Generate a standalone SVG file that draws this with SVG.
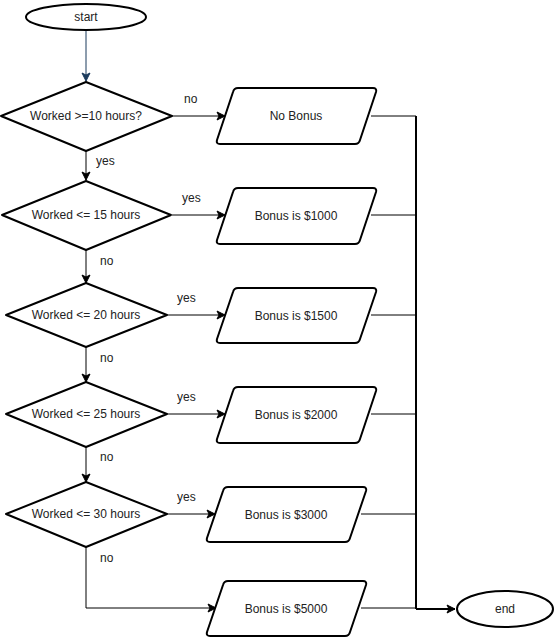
<svg xmlns="http://www.w3.org/2000/svg" width="558" height="637" viewBox="0 0 558 637">
<style>
.sh{fill:#fff;stroke:#000;stroke-width:2;stroke-linejoin:round}
.t{font-family:"Liberation Sans",Arial,sans-serif;font-size:12px;fill:#222;text-anchor:middle;dominant-baseline:central}
.c{fill:none;stroke:#000;stroke-width:1}
.l{font-family:"Liberation Sans",Arial,sans-serif;font-size:12px;fill:#222}
</style>
<defs>
<marker id="a" markerWidth="10" markerHeight="10" refX="9" refY="5" orient="auto" markerUnits="userSpaceOnUse">
<path d="M1,1 L9,5 L1,9 L3,5 Z" fill="#000" stroke="#000" stroke-width="1"/>
</marker>
<marker id="ab" markerWidth="10" markerHeight="10" refX="9" refY="5" orient="auto" markerUnits="userSpaceOnUse">
<path d="M1,1 L9,5 L1,9 L3,5 Z" fill="#1b3a5c" stroke="#1b3a5c" stroke-width="1"/>
</marker>
</defs>
<g id="connectors">
<path class="c" d="M86,31 V81" stroke="#1b3a5c" style="stroke:#1b3a5c" marker-end="url(#ab)"/>
<path class="c" d="M86,151 V180" marker-end="url(#a)"/>
<path class="c" d="M86,250 V283" marker-end="url(#a)"/>
<path class="c" d="M86,347 V382" marker-end="url(#a)"/>
<path class="c" d="M86,447 V482" marker-end="url(#a)"/>
<path class="c" d="M86,547 V608 H216" marker-end="url(#a)"/>
<path class="c" d="M172,116 H225" marker-end="url(#a)"/>
<path class="c" d="M172,215 H225" marker-end="url(#a)"/>
<path class="c" d="M167,315 H225" marker-end="url(#a)"/>
<path class="c" d="M167,414 H225" marker-end="url(#a)"/>
<path class="c" d="M167,514 H215" marker-end="url(#a)"/>
<path class="c" d="M371,116 H416 V609"/>
<path class="c" d="M371,215 H416"/>
<path class="c" d="M371,315 H416"/>
<path class="c" d="M371,414 H416"/>
<path class="c" d="M361,514 H416"/>
<path class="c" d="M361,608 H416"/>
<path class="c" d="M416,116 V609" style="stroke-width:2"/>
<path class="c" d="M416,609 H455" style="stroke-width:2" marker-end="url(#a)"/>
<text class="l" x="184" y="103">no</text>
<text class="l" x="96" y="165">yes</text>
<text class="l" x="182" y="202">yes</text>
<text class="l" x="100" y="265">no</text>
<text class="l" x="177" y="302">yes</text>
<text class="l" x="100" y="362">no</text>
<text class="l" x="177" y="401">yes</text>
<text class="l" x="100" y="461">no</text>
<text class="l" x="177" y="501">yes</text>
<text class="l" x="100" y="562">no</text>
</g>
<g id="start"><ellipse class="sh" cx="86" cy="17" rx="60" ry="13"/><text class="t" x="86" y="17">start</text></g>
<g id="d1"><polygon class="sh" points="86,82 172,116 86,151 1,116"/><text class="t" x="86" y="116">Worked &gt;=10 hours?</text></g>
<g id="d2"><polygon class="sh" points="86,181 171,215 86,250 2,215"/><text class="t" x="86" y="215">Worked &lt;= 15 hours</text></g>
<g id="d3"><polygon class="sh" points="86,283 167,315 86,347 6,315"/><text class="t" x="86" y="315">Worked &lt;= 20 hours</text></g>
<g id="d4"><polygon class="sh" points="86,382 167,414 86,447 6,414"/><text class="t" x="86" y="414">Worked &lt;= 25 hours</text></g>
<g id="d5"><polygon class="sh" points="86,482 167,514 86,547 6,514"/><text class="t" x="86" y="514">Worked &lt;= 30 hours</text></g>
<g id="p0"><path class="sh" d="M238,88 H373 Q377,88 376,92 L360,140 Q359,144 355,144 H220 Q216,144 217,140 L233,92 Q234,88 238,88 Z"/><text class="t" x="296" y="116">No Bonus</text></g>
<g id="p1"><path class="sh" d="M238,188 H373 Q377,188 376,192 L360,240 Q359,244 355,244 H220 Q216,244 217,240 L233,192 Q234,188 238,188 Z"/><text class="t" x="296" y="216">Bonus is $1000</text></g>
<g id="p2"><path class="sh" d="M238,288 H373 Q377,288 376,292 L360,339 Q359,343 355,343 H220 Q216,343 217,339 L233,292 Q234,288 238,288 Z"/><text class="t" x="296" y="316">Bonus is $1500</text></g>
<g id="p3"><path class="sh" d="M238,387 H373 Q377,387 376,391 L360,439 Q359,443 355,443 H220 Q216,443 217,439 L233,391 Q234,387 238,387 Z"/><text class="t" x="296" y="415">Bonus is $2000</text></g>
<g id="p4"><path class="sh" d="M228,487 H363 Q367,487 366,491 L350,538 Q349,542 345,542 H210 Q206,542 207,538 L223,491 Q224,487 228,487 Z"/><text class="t" x="286" y="515">Bonus is $3000</text></g>
<g id="p5"><path class="sh" d="M228,581 H363 Q367,581 366,585 L350,632 Q349,636 345,636 H210 Q206,636 207,632 L223,585 Q224,581 228,581 Z"/><text class="t" x="286" y="609">Bonus is $5000</text></g>
<g id="end"><ellipse class="sh" cx="505" cy="609" rx="48" ry="18"/><text class="t" x="505" y="609">end</text></g>
</svg>
